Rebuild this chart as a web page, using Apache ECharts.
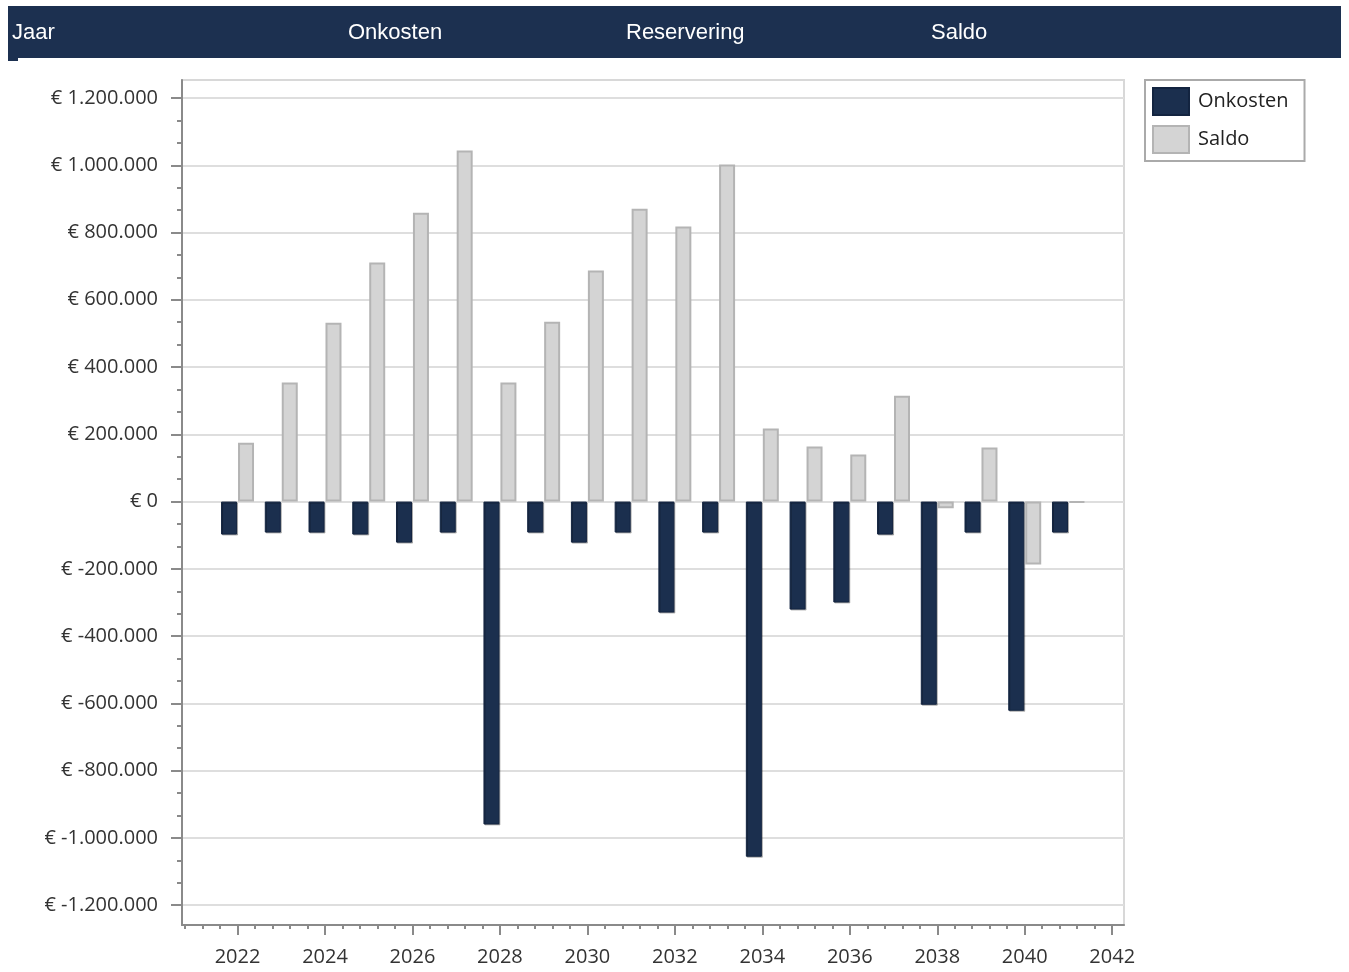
<!DOCTYPE html>
<html>
<head>
<meta charset="utf-8">
<title>Onkosten en saldo per jaar</title>
<script src="https://cdn.jsdelivr.net/npm/echarts@6/dist/echarts.min.js"></script>
<style>
  html, body { margin: 0; padding: 0; background: #fff; }
  #chart { width: 1349px; height: 972px; }
</style>
</head>
<body>
<div id="chart"></div>
<script>
// Data
const years = [2022, 2023, 2024, 2025, 2026, 2027, 2028, 2029, 2030, 2031,
  2032, 2033, 2034, 2035, 2036, 2037, 2038, 2039, 2040, 2041]
const onkosten = [-98000, -92000, -92000, -98000, -122000, -92000, -960000, -92000, -122000, -92000,
  -330000, -92000, -1056000, -321000, -300000, -98000, -604000, -92000, -622000, -92000]
const saldo = [175000, 354000, 532000, 711000, 859000, 1044000, 354000, 535000, 687000, 871000,
  818000, 1002000, 217000, 164000, 140000, 315000, -20000, 161000, -187000, -3000]
const headerLabels = ["Jaar", "Onkosten", "Reservering", "Saldo"]
const xTickYears = [2022, 2024, 2026, 2028, 2030, 2032, 2034, 2036, 2038, 2040, 2042]
const yTickValues = [-1200000, -1000000, -800000, -600000, -400000, -200000, 0,
  200000, 400000, 600000, 800000, 1000000, 1200000]

// minor ticks (5 per two years on x, 3 per step on y)
const xMinor = []
for (let i = 0; i <= 53; i++) {
  const v = Math.round((2020.8 + i * 0.4) * 10) / 10
  if (v <= 2042 && xTickYears.indexOf(v) < 0) xMinor.push(v)
}
const yMinor = []
for (let i = -18; i <= 18; i++) {
  if (i % 3 !== 0) yMinor.push(i * 200000 / 3)
}

const NAVY = "#1b2f4e"
const FONT = "Open Sans"
const AXIS_GREY = "#8a8a8a"

function euro(v) {
  const s = Math.abs(v).toString().replace(/\B(?=(\d{3})+(?!\d))/g, ".")
  return "€ " + (v < 0 ? "-" : "") + s
}

const headerX = [12, 348, 626, 931]

const chart = echarts.init(document.getElementById("chart"), null, { renderer: "canvas" })

const option = {
  backgroundColor: "#fff",
  animation: false,
  graphic: [
    {
      type: "rect",
      shape: { x: 8, y: 6, width: 1333, height: 52 },
      style: { fill: "#1c3050" },
    },
    {
      type: "rect",
      shape: { x: 8, y: 58, width: 10, height: 3 },
      style: { fill: "#1c3050" },
    },
  ].concat(headerLabels.map((t, i) => ({
    type: "text",
    x: headerX[i],
    y: 33,
    style: {
      text: t,
      fill: "#fff",
      font: "22px 'Liberation Sans', Arial, sans-serif",
      verticalAlign: "middle",
    },
  }))),
  legend: {
    orient: "vertical",
    left: 1145,
    top: 80,
    padding: [7, 16, 7, 7],
    borderColor: "#aaa",
    borderWidth: 2,
    itemWidth: 36,
    itemHeight: 27,
    itemGap: 9,
    icon: "rect",
    textStyle: { fontFamily: FONT, fontSize: 20, color: "#222", padding: [0, 0, 0, 4] },
    data: ["Onkosten", "Saldo"],
  },
  grid: {
    left: 182,
    top: 80,
    right: 225,
    bottom: 47,
    show: true,
    borderColor: "#d8d8d8",
    borderWidth: 2,
  },
  xAxis: [
    {
      type: "value",
      min: 2020.73,
      max: 2042.27,
      axisLine: { show: true, onZero: false, lineStyle: { color: AXIS_GREY, width: 2 } },
      axisTick: { show: true, customValues: xTickYears, length: 10, lineStyle: { color: AXIS_GREY, width: 2 } },
      axisLabel: {
        customValues: xTickYears,
        margin: 22,
        fontFamily: FONT,
        fontSize: 20,
        color: "#333",
        formatter: (v) => String(v),
      },
      splitLine: { show: false },
    },
    {
      type: "value",
      min: 2020.73,
      max: 2042.27,
      position: "bottom",
      axisLine: { show: false, onZero: false },
      axisTick: { show: true, customValues: xMinor, length: 4, lineStyle: { color: AXIS_GREY, width: 2 } },
      axisLabel: { show: false },
      splitLine: { show: false },
    },
  ],
  yAxis: [
    {
      type: "value",
      min: -1259000,
      max: 1253500,
      axisLine: { show: true, onZero: false, lineStyle: { color: AXIS_GREY, width: 2 } },
      axisTick: { show: true, customValues: yTickValues, length: 11, lineStyle: { color: AXIS_GREY, width: 2 } },
      axisLabel: {
        customValues: yTickValues,
        margin: 24,
        fontFamily: FONT,
        fontSize: 20,
        color: "#333",
        formatter: euro,
      },
      splitLine: { show: true, lineStyle: { color: "#dedede", width: 2 } },
    },
    {
      type: "value",
      min: -1259000,
      max: 1253500,
      position: "left",
      axisLine: { show: false, onZero: false },
      axisTick: { show: true, customValues: yMinor, length: 5, lineStyle: { color: AXIS_GREY, width: 2 } },
      axisLabel: { show: false },
      splitLine: { show: false },
    },
  ],
  series: [
    {
      name: "Onkosten",
      type: "bar",
      barWidth: 16,
      barGap: "6%",
      data: years.map((y, i) => [y, onkosten[i]]),
      itemStyle: {
        color: NAVY,
        borderColor: "#132440",
        borderWidth: 1,
        shadowColor: "rgba(0,0,0,0.25)",
        shadowOffsetX: 1,
        shadowOffsetY: 1,
      },
    },
    {
      name: "Saldo",
      type: "bar",
      barWidth: 16,
      barGap: "6%",
      data: years.map((y, i) => [y, saldo[i]]),
      itemStyle: {
        color: "#d4d4d4",
        borderColor: "#b4b4b4",
        borderWidth: 2,
      },
    },
  ],
}

chart.setOption(option)
window.addEventListener("resize", () => chart.resize())
</script>
</body>
</html>
